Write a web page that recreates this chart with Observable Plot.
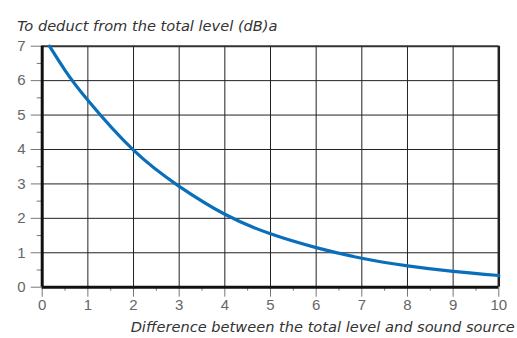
<!DOCTYPE html>
<html>
<head>
<meta charset="utf-8">
<script src="https://cdn.jsdelivr.net/npm/d3@7"></script>
<script src="https://cdn.jsdelivr.net/npm/@observablehq/plot@0.6"></script>
<style>
  html, body { margin: 0; padding: 0; background: #fff; }
</style>
</head>
<body>
<div id="chart"></div>
<script>
// Difference between total level and sound source (dB)
const diffValues   = [0.16, 0.5, 1.0, 2.0, 3.0, 4.0, 5.0, 6.0, 7.0, 8.0, 9.0, 10.0];
// Amount to deduct from the total level (dB)
const deductValues = [7.0, 6.3, 5.43, 3.98, 2.93, 2.12, 1.55, 1.15, 0.84, 0.62, 0.46, 0.34];

const xMajorTicks = [0, 1, 2, 3, 4, 5, 6, 7, 8, 9, 10];
const xMinorTicks = [0.5, 1.5, 2.5, 3.5, 4.5, 5.5, 6.5, 7.5, 8.5, 9.5];
const yMajorTicks = [0, 1, 2, 3, 4, 5, 6, 7];
const yMinorTicks = [0.5, 1.5, 2.5, 3.5, 4.5, 5.5, 6.5];

const titleText = "To deduct from the total level (dB)a";
const xLabelText = "Difference between the total level and sound source";

const data = diffValues.map((d, i) => ({diff: d, deduct: deductValues[i]}));
const tickFont = "'Liberation Sans', Arial, sans-serif";

const chart = Plot.plot({
  width: 517,
  height: 338,
  marginTop: 45.7,
  marginRight: 18.7,
  marginBottom: 51.3,
  marginLeft: 41.7,
  style: {fontFamily: "'DejaVu Sans', sans-serif", fontSize: "14px", background: "#fff"},
  x: {domain: [0, 10], label: null},
  y: {domain: [0, 7], label: null},
  marks: [
    Plot.gridX(xMajorTicks.slice(1, -1), {stroke: "#222", strokeOpacity: 1, strokeWidth: 1}),
    Plot.gridY(yMajorTicks.slice(1, -1), {stroke: "#222", strokeOpacity: 1, strokeWidth: 1}),
    Plot.axisX(xMinorTicks, {tickSize: 4, text: null, stroke: "#777", label: null}),
    Plot.axisX(xMajorTicks, {tickSize: 10, text: null, stroke: "#777", label: null}),
    Plot.axisY(yMinorTicks, {tickSize: 5, text: null, stroke: "#777", label: null}),
    Plot.axisY(yMajorTicks, {tickSize: 11, text: null, stroke: "#777", label: null}),
    Plot.text(xMajorTicks, {x: d => d, text: d => String(d), frameAnchor: "bottom", dy: 23, fill: "#666", fontSize: 15, fontFamily: tickFont}),
    Plot.text(yMajorTicks, {y: d => d, text: d => String(d), frameAnchor: "left", dx: -16.5, textAnchor: "end", fill: "#666", fontSize: 15, fontFamily: tickFont}),
    Plot.ruleY([7], {stroke: "#333", strokeWidth: 2}),
    Plot.ruleX([10], {stroke: "#222", strokeWidth: 2.5}),
    Plot.line(data, {x: "diff", y: "deduct", curve: "natural", stroke: "#0a6fba", strokeWidth: 3.2}),
    Plot.ruleX([0], {stroke: "#111", strokeWidth: 3}),
    Plot.ruleY([0], {stroke: "#111", strokeWidth: 3}),
    Plot.text([titleText], {frameAnchor: "top-left", dx: -25, dy: -26, textAnchor: "start", fontStyle: "italic", fontSize: 14.6, fill: "#333"}),
    Plot.text([xLabelText], {frameAnchor: "bottom-right", dx: 16, dy: 45, textAnchor: "end", fontStyle: "italic", fontSize: 14.6, fill: "#333"})
  ]
});
document.getElementById("chart").appendChild(chart);
</script>
</body>
</html>
